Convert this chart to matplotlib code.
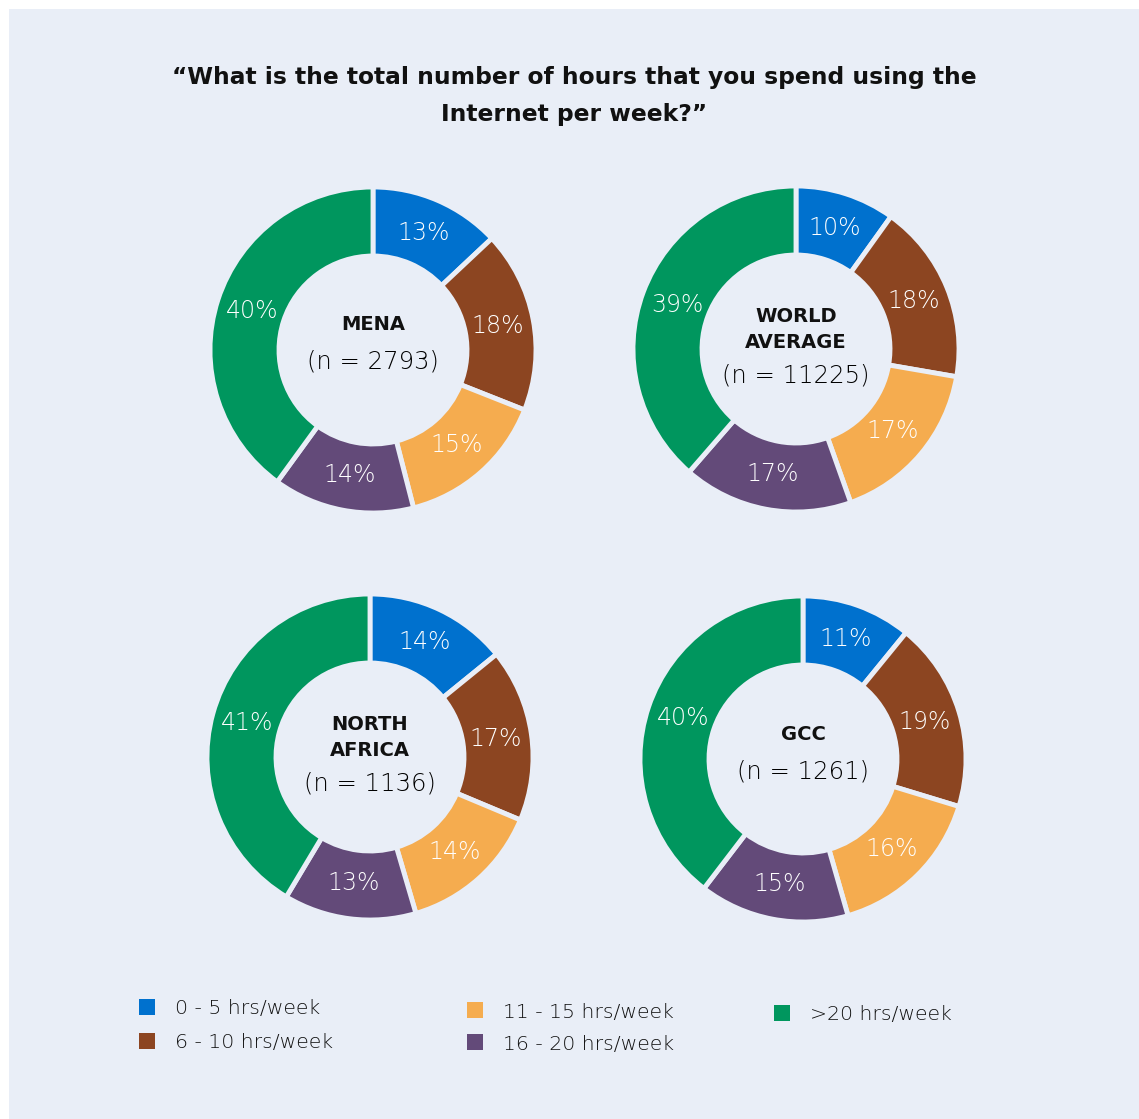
import matplotlib.pyplot as plt
import numpy as np
from matplotlib.patches import Rectangle

TITLE_LINES = ["\u201cWhat is the total number of hours that you spend using the",
               "Internet per week?\u201d"]

CATEGORIES = ["0 - 5 hrs/week", "6 - 10 hrs/week", "11 - 15 hrs/week",
              "16 - 20 hrs/week", ">20 hrs/week"]
COLORS = ["#0071CE", "#8C4521", "#F5AC4F", "#634A79", "#00965E"]

REGIONS = [["MENA"], ["WORLD", "AVERAGE"], ["NORTH", "AFRICA"], ["GCC"]]
SAMPLES = [2793, 11225, 1136, 1261]
MENA = [13, 18, 15, 14, 40]
WORLD = [10, 18, 17, 17, 39]
NORTH_AFRICA = [14, 17, 14, 13, 41]
GCC = [11, 19, 16, 15, 40]
SHARES = [MENA, WORLD, NORTH_AFRICA, GCC]

BG = "#E9EEF7"
W, H = 1139, 1119
FONT = "DejaVu Sans"
DARK = "#111111"


def main():
    fig = plt.figure(figsize=(W / 100, H / 100), dpi=100)
    fig.patch.set_facecolor("white")
    ax = fig.add_axes([0, 0, 1, 1])

    # pixel units, y counted down from the top edge
    def py(y):
        return H - y

    ax.add_patch(Rectangle((9, 0), W - 9, H - 9, facecolor=BG, edgecolor="none", zorder=0))

    for i, line in enumerate(TITLE_LINES):
        ax.text(574, py(84 + 37 * i), line, ha="center", va="baseline", fontsize=16.8,
                fontweight="bold", family=FONT, color=DARK)

    centers = [(373, 350), (796, 349), (370, 757), (803, 759)]
    outer, ring = 163, 69

    for (cx, cy), shares, name, n in zip(centers, SHARES, REGIONS, SAMPLES):
        wedges, _ = ax.pie(
            shares,
            colors=COLORS,
            radius=outer,
            center=(cx, py(cy)),
            startangle=90,
            counterclock=False,
            frame=True,
            wedgeprops=dict(width=ring, edgecolor=BG, linewidth=3.5),
        )
        r_lab = 127
        for w, v in zip(wedges, shares):
            mid = np.deg2rad((w.theta1 + w.theta2) / 2)
            ax.text(cx + r_lab * np.cos(mid), py(cy) + r_lab * np.sin(mid), f"{v}%",
                    ha="center", va="center", fontsize=17, family=FONT,
                    fontweight=200, color="white")

        # region name (bold caps) stacked above the sample size
        if len(name) == 1:
            name_y, n_y = [cy - 25], cy + 12
        else:
            name_y, n_y = [cy - 33, cy - 7], cy + 26
        for line, ly in zip(name, name_y):
            ax.text(cx, py(ly), line, ha="center", va="center", fontsize=14,
                    fontweight="bold", family=FONT, color=DARK)
        ax.text(cx, py(n_y), f"(n = {n})", ha="center", va="center",
                fontsize=17.5, fontweight=200, family=FONT, color="#000000")

    # legend, three columns
    legend_pos = [(147, 1007), (147, 1041), (475, 1010), (475, 1042), (782, 1013)]
    for (lx, ly), label, color in zip(legend_pos, CATEGORIES, COLORS):
        ax.add_patch(Rectangle((lx - 8, py(ly) - 8), 16, 16, facecolor=color,
                               edgecolor="none", zorder=2))
        ax.text(lx + 28, py(ly + 2), label, ha="left", va="center", fontsize=14.7,
                fontweight=200, family=FONT, color="#111111")

    ax.set_xlim(0, W)
    ax.set_ylim(0, H)
    ax.set_aspect("auto")
    ax.axis("off")

    fig.savefig("out.png", dpi=100, facecolor=fig.get_facecolor())


if __name__ == "__main__":
    main()
